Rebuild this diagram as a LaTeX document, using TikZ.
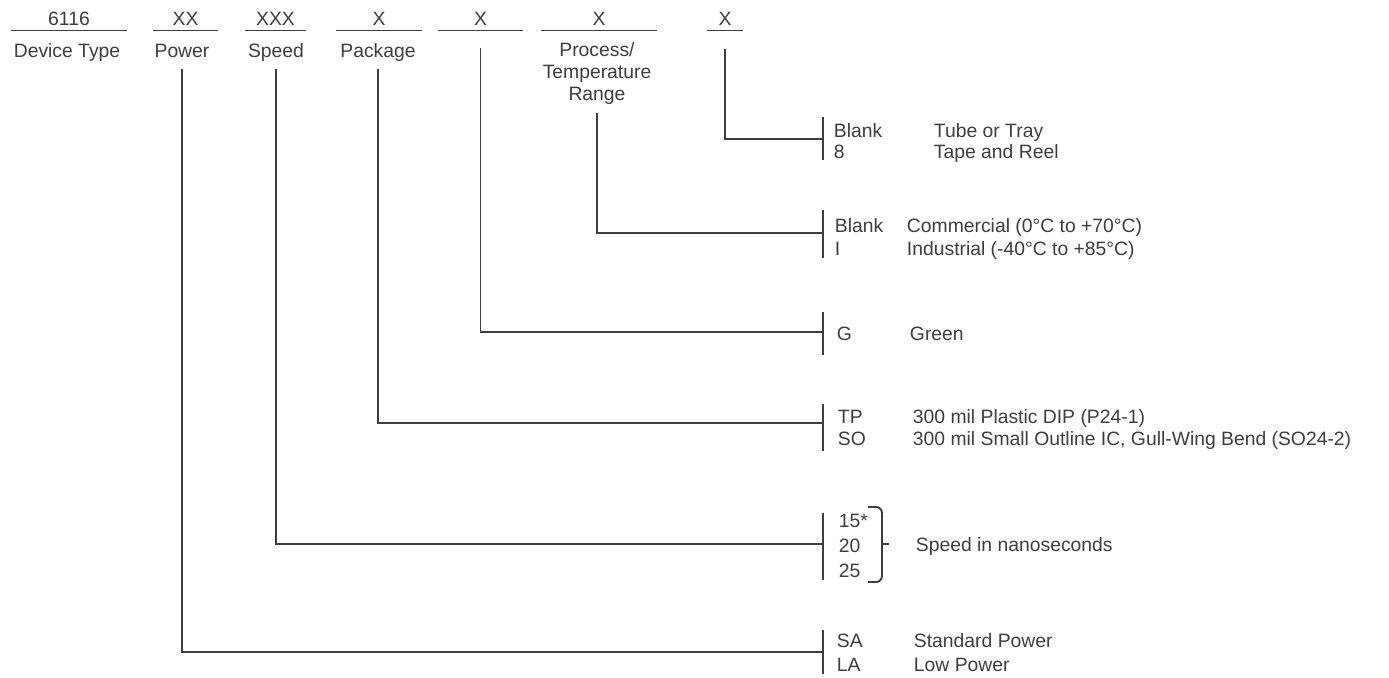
\documentclass[tikz,border=0pt]{standalone}
\usepackage{fontspec}
\setmainfont{Liberation Sans}
\definecolor{ink}{RGB}{62,62,58}

\begin{document}
\begin{tikzpicture}[x={(0.02cm,0)},y={(0,-0.02cm)},line width=1.1pt,color=ink,
    font=\fontsize{11}{12.5}\selectfont,
    code/.style={anchor=base,inner xsep=0pt,inner ysep=0.09cm,text depth=0pt},
    field/.style={anchor=base,inner sep=0pt,text depth=0pt},
    opt/.style={anchor=west,inner sep=0pt,text height=8pt,text depth=0pt},
    drop/.style={shorten <=0.22cm}]
    \useasboundingbox (0,0) rectangle (1389,677);
    % Part number fields
    \node[code,minimum width=2.28cm] (dev) at (69,25) {6116};
    \node[code,minimum width=1.26cm] (pow) at (185.5,25) {XX};
    \node[code,minimum width=1.18cm] (spd) at (275.5,25) {XXX};
    \node[code,minimum width=1.68cm] (pkg) at (379,25) {X};
    \node[code,minimum width=1.66cm] (grn) at (480.5,25) {X};
    \node[code,minimum width=2.28cm] (tmp) at (599,25) {X};
    \node[code,minimum width=0.68cm] (tpr) at (725,25) {X};
    \foreach \f in {dev,pow,spd,pkg,grn,tmp,tpr} {
      \draw (\f.south west) -- (\f.south east);
    }
    % Field names
    \node[field] (devT) at (67,57) {Device Type};
    \node[field] (powT) at (182,57) {Power};
    \node[field] (spdT) at (276,57) {Speed};
    \node[field] (pkgT) at (378,57) {Package};
    \node[field,align=center,anchor=south] (tmpT) at (597,101) {Process/\\Temperature\\Range};
    % Branch points
    \coordinate (tprB) at (823,139);
    \coordinate (tmpB) at (823,233);
    \coordinate (grnB) at (823,332);
    \coordinate (pkgB) at (823,423);
    \coordinate (spdB) at (823,544);
    \coordinate (powB) at (823,652);
    % Bars
    \draw (823,117) -- (823,160);
    \draw (823,210) -- (823,258);
    \draw (823,312) -- (823,355);
    \draw (823,404) -- (823,451);
    \draw (823,513) -- (823,580);
    \draw (823,630) -- (823,674);
    % Leaders
    \draw[drop] (powT.south) |- (powB);
    \draw[drop] (spdT.south) |- (spdB);
    \draw[drop] (pkgT.south) |- (pkgB);
    \draw[shorten <=0.35cm] (grn.south) |- (grnB);
    \draw[shorten <=0.24cm] (tmpT.south) |- (tmpB);
    \draw[shorten <=0.37cm] (tpr.south) |- (tprB);
    % Options
    \node[opt] (tpr1) at (833,130) {Blank};
    \node[opt] (tpr2) at (833,151) {8};
    \node[opt] (tprD1) at (933,130) {Tube or Tray};
    \node[opt] (tprD2) at (933,151) {Tape and Reel};
    \node[opt] (tmp1) at (834,225) {Blank};
    \node[opt] (tmp2) at (834,248) {I};
    \node[opt] (tmpD1) at (906,225) {Commercial (0°C to +70°C)};
    \node[opt] (tmpD2) at (906,248) {Industrial (-40°C to +85°C)};
    \node[opt] (grn1) at (836,333) {G};
    \node[opt] (grnD1) at (909,333) {Green};
    \node[opt] (pkg1) at (837,416) {TP};
    \node[opt] (pkg2) at (837,438) {SO};
    \node[opt] (pkgD1) at (912,416) {300 mil Plastic DIP (P24-1)};
    \node[opt] (pkgD2) at (912,438) {300 mil Small Outline IC, Gull-Wing Bend (SO24-2)};
    \node[opt] (spd1) at (838,520) {15*};
    \node[opt] (spd2) at (838,545) {20};
    \node[opt] (spd3) at (838,570) {25};
    \draw[rounded corners=0.12cm] (868,507) -- (882,507) -- (882,582) -- (868,582);
    \draw (882,544) -- (889,544);
    \node[opt] (spdD) at (915,544) {Speed in nanoseconds};
    \node[opt] (pow1) at (836,640) {SA};
    \node[opt] (pow2) at (836,664) {LA};
    \node[opt] (powD1) at (913,640) {Standard Power};
    \node[opt] (powD2) at (913,664) {Low Power};
\end{tikzpicture}
\end{document}
